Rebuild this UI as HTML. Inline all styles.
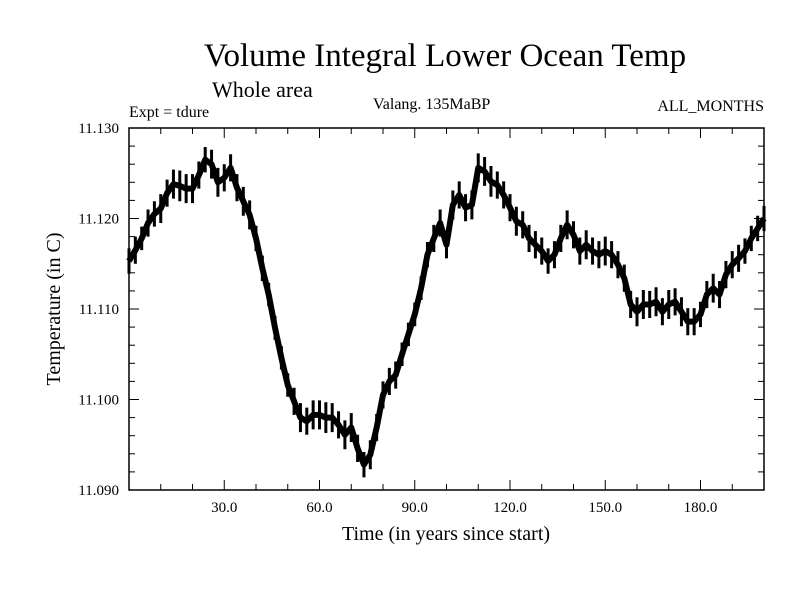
<!DOCTYPE html>
<html><head><meta charset="utf-8"><style>
body{margin:0;background:#fff;}
svg{display:block;font-family:"Liberation Serif",serif;}
</style></head><body>
<svg id="chart" width="800" height="600" viewBox="0 0 800 600" xmlns="http://www.w3.org/2000/svg">
<rect width="800" height="600" fill="#fff"/>
<text x="445" y="66" font-size="33" text-anchor="middle">Volume Integral Lower Ocean Temp</text>
<text x="212" y="97" font-size="22">Whole area</text>
<text x="129" y="117" font-size="16">Expt = tdure</text>
<text x="373" y="109" font-size="16">Valang.  135MaBP</text>
<text x="764" y="111" font-size="16" text-anchor="end">ALL_MONTHS</text>
<text transform="translate(60,309) rotate(-90)" font-size="20" text-anchor="middle">Temperature (in C)</text>
<text x="446" y="540" font-size="20" text-anchor="middle">Time (in years since start)</text>
<g id="axes"></g>
<g id="series"></g>
<rect x="129" y="128" width="635" height="362" fill="none" stroke="#000" stroke-width="1.5"/>
</svg>
<script>
const years = [0,2,4,6,8,10,12,14,16,18,20,22,24,26,28,30,32,34,36,38,40,42,44,46,48,50,52,54,56,58,60,62,64,66,68,70,72,74,76,78,80,82,84,86,88,90,92,94,96,98,100,102,104,106,108,110,112,114,116,118,120,122,124,126,128,130,132,134,136,138,140,142,144,146,148,150,152,154,156,158,160,162,164,166,168,170,172,174,176,178,180,182,184,186,188,190,192,194,196,198,200];
const temps = [11.1153,11.1165,11.1178,11.1195,11.1205,11.1211,11.1228,11.1238,11.1236,11.1233,11.1233,11.1248,11.1265,11.1260,11.1240,11.1245,11.1256,11.1234,11.1219,11.1204,11.1178,11.1145,11.1116,11.1079,11.1046,11.1016,11.0998,11.0980,11.0976,11.0983,11.0983,11.0980,11.0980,11.0972,11.0961,11.0969,11.0946,11.0928,11.0939,11.0969,11.1005,11.1020,11.1027,11.1050,11.1072,11.1094,11.1123,11.1160,11.1178,11.1195,11.1171,11.1215,11.1226,11.1212,11.1215,11.1256,11.1252,11.1241,11.1237,11.1226,11.1212,11.1197,11.1193,11.1178,11.1171,11.1164,11.1153,11.1160,11.1178,11.1193,11.1182,11.1164,11.1171,11.1164,11.1160,11.1164,11.1160,11.1149,11.1134,11.1105,11.1097,11.1105,11.1105,11.1108,11.1097,11.1105,11.1108,11.1097,11.1086,11.1086,11.1094,11.1116,11.1123,11.1116,11.1138,11.1149,11.1156,11.1164,11.1178,11.1189,11.1200];
const spread = [0.0014,0.0015,0.0013,0.0015,0.0014,0.0016,0.0015,0.0016,0.0017,0.0016,0.0016,0.0015,0.0014,0.0016,0.0016,0.0015,0.0015,0.0015,0.0016,0.0016,0.0014,0.0014,0.0013,0.0013,0.0013,0.0013,0.0015,0.0016,0.0015,0.0016,0.0016,0.0017,0.0016,0.0015,0.0016,0.0016,0.0015,0.0014,0.0016,0.0015,0.0015,0.0015,0.0015,0.0013,0.0013,0.0013,0.0013,0.0014,0.0015,0.0015,0.0015,0.0016,0.0015,0.0015,0.0016,0.0016,0.0016,0.0017,0.0015,0.0015,0.0015,0.0016,0.0015,0.0015,0.0015,0.0015,0.0014,0.0015,0.0015,0.0016,0.0015,0.0015,0.0016,0.0015,0.0015,0.0016,0.0015,0.0015,0.0015,0.0015,0.0016,0.0016,0.0015,0.0016,0.0015,0.0016,0.0015,0.0016,0.0015,0.0015,0.0014,0.0015,0.0016,0.0015,0.0015,0.0015,0.0015,0.0014,0.0014,0.0014,0.0014];
const xTickLabels = ["30.0","60.0","90.0","120.0","150.0","180.0"];
const xTickValues = [30,60,90,120,150,180];
const yTickLabels = ["11.090","11.100","11.110","11.120","11.130"];
const yTickValues = [11.09,11.10,11.11,11.12,11.13];

const X0=129,X1=764,Y0=490,Y1=128,XMIN=0,XMAX=200,YMIN=11.09,YMAX=11.13;
const xs = v => X0+(v-XMIN)/(XMAX-XMIN)*(X1-X0);
const ys = v => Y0-(v-YMIN)/(YMAX-YMIN)*(Y0-Y1);
const NS="http://www.w3.org/2000/svg";
const axes=document.getElementById('axes');
const series=document.getElementById('series');
function ln(p,x1,y1,x2,y2,w){const l=document.createElementNS(NS,'line');l.setAttribute('x1',x1);l.setAttribute('y1',y1);l.setAttribute('x2',x2);l.setAttribute('y2',y2);l.setAttribute('stroke','#000');l.setAttribute('stroke-width',w||1);p.appendChild(l);return l;}
for(let v=10;v<XMAX;v+=10){
  const major=v%30===0, len=major?10:6, x=xs(v);
  const a=ln(axes,x,Y0,x,Y0-len);
  
  
  const b=ln(axes,x,Y1,x,Y1+len);
  
  
}
xTickValues.forEach((v,i)=>{
  const t=document.createElementNS(NS,'text');
  t.setAttribute('x',xs(v));t.setAttribute('y',512);t.setAttribute('font-size','15');t.setAttribute('text-anchor','middle');
  t.textContent=xTickLabels[i];
  
  
  axes.appendChild(t);
});
for(let k=1;k<20;k++){
  const v=YMIN+k*0.002, major=k%5===0, len=major?10:6, y=ys(v);
  const a=ln(axes,X0,y,X0+len,y);
  
  
  const b=ln(axes,X1,y,X1-len,y);
  
  
}
yTickValues.forEach((v,i)=>{
  const t=document.createElementNS(NS,'text');
  t.setAttribute('x',119);t.setAttribute('y',ys(v)+5);t.setAttribute('font-size','15');t.setAttribute('text-anchor','end');
  t.textContent=yTickLabels[i];
  
  
  axes.appendChild(t);
});
let d='';
years.forEach((yr,i)=>{d+=(i?'L':'M')+xs(yr).toFixed(2)+','+ys(temps[i]).toFixed(2);});
const core=document.createElementNS(NS,'path');
core.setAttribute('d',d);core.setAttribute('fill','none');core.setAttribute('stroke','#000');
core.setAttribute('stroke-width','6');core.setAttribute('stroke-linejoin','round');


series.appendChild(core);
let z='';
years.forEach((yr,i)=>{const x=xs(yr);z+='M'+x.toFixed(2)+','+ys(temps[i]+spread[i]).toFixed(2)+'L'+x.toFixed(2)+','+ys(temps[i]-spread[i]).toFixed(2);});
const env=document.createElementNS(NS,'path');
env.setAttribute('d',z);env.setAttribute('stroke','#000');env.setAttribute('stroke-width','3');


series.appendChild(env);
</script>
</body></html>
